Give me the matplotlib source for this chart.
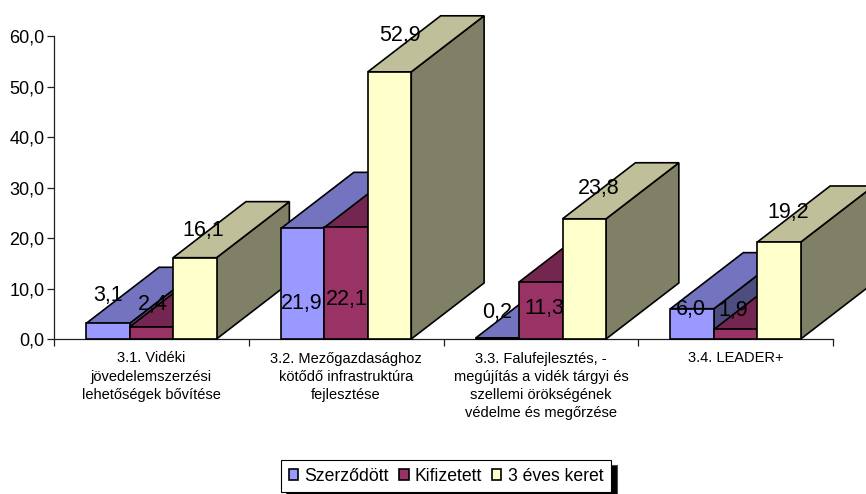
import matplotlib
matplotlib.use("Agg")
import matplotlib.pyplot as plt
from matplotlib.patches import Polygon, Patch

plt.rcParams['font.family'] = ['Liberation Sans', 'DejaVu Sans']

#values
categories = ["3.1. Vidéki\njövedelemszerzési\nlehetőségek bővítése",
              "3.2. Mezőgazdasághoz\nkötődő infrastruktúra\nfejlesztése",
              "3.3. Falufejlesztés, -\nmegújítás a vidék tárgyi és\nszellemi örökségének\nvédelme és megőrzése",
              "3.4. LEADER+"]
series_names = ["Szerződött", "Kifizetett", "3 éves keret"]
szerzodott = [3.1, 21.9, 0.2, 6.0]
kifizetett = [2.4, 22.1, 11.3, 1.9]
keret = [16.1, 52.9, 23.8, 19.2]
yticks = [0, 10, 20, 30, 40, 50, 60]

#front, top, side colours
colors = [("#9999FF", "#7373BF", "#4D4D80"),
          ("#993366", "#732650", "#4D1A33"),
          ("#FFFFCC", "#BFBF99", "#808066")]

#hand placed labels in the original, offset in px from top centre of the bar
label_off = [[(0, 28), (1, 22), (8, 27)],
             [(-1, -75), (1, -72), (10, 36)],
             [(0, 25), (3, -27), (14, 30)],
             [(-1, -1), (-2, 19), (9, 30)]]

W, H = 866, 494
fig = plt.figure(figsize=(W/100, H/100), dpi=100)
ax = fig.add_axes([54/W, 1-339/H, (833-54)/W, (339-36)/H])
ax.set_xlim(0, 4)
ax.set_ylim(0, 60)

bar_w = 0.223
depth_x = 0.374
depth_y = 11.1
z = 3
all_vals = [szerzodott, kifizetett, keret]
for g in range(len(categories)):
    for s in range(3):
        v = all_vals[s][g]
        x0 = g + 0.1655 + s*bar_w
        x1 = x0 + bar_w
        front, top, side = colors[s]
        ax.add_patch(Polygon([(x1, 0), (x1+depth_x, depth_y), (x1+depth_x, v+depth_y), (x1, v)],
                             fc=side, ec="black", lw=1.2, zorder=z, clip_on=False))
        ax.add_patch(Polygon([(x0, v), (x1, v), (x1+depth_x, v+depth_y), (x0+depth_x, v+depth_y)],
                             fc=top, ec="black", lw=1.2, zorder=z, clip_on=False))
        ax.bar(x0, v, bar_w, align="edge", color=front, edgecolor="black", lw=1.2, zorder=z, clip_on=False)
        z += 1

#labels go on top of everything
for g in range(len(categories)):
    for s in range(3):
        v = all_vals[s][g]
        dx, dy = label_off[g][s]
        ax.annotate(f"{v:.1f}".replace(".", ","), (g + 0.1655 + (s+0.5)*bar_w, v),
                    xytext=(dx*0.72, dy*0.72), textcoords="offset points",
                    ha="center", va="center", fontsize=15.5, color="black", zorder=50)

for side in ["top", "right"]:
    ax.spines[side].set_visible(False)
for side in ["left", "bottom"]:
    ax.spines[side].set_color("#202020")
    ax.spines[side].set_linewidth(0.9)
ax.patch.set_visible(False)

ax.set_yticks(yticks)
ax.set_yticklabels([f"{t:.1f}".replace(".", ",") for t in yticks], fontsize=13)
ax.tick_params(axis="y", length=5, width=0.9, color="#202020", pad=2)
ax.set_xticks(range(5))
ax.set_xticklabels([])
ax.tick_params(axis="x", which="major", length=5, width=0.9, color="#202020")
ax.set_xticks([0.5, 1.5, 2.5, 3.5], minor=True)
ax.set_xticklabels(categories, minor=True, fontsize=10.5, linespacing=1.38, va="top")
ax.tick_params(axis="x", which="minor", length=0, pad=9)

handles = [Patch(fc=colors[i][0], ec="black", lw=1.2) for i in range(3)]
leg = ax.legend(handles, series_names, loc="center", bbox_to_anchor=(446/W, 1-476/H),
                bbox_transform=fig.transFigure, ncol=3, fontsize=12.7, frameon=True, fancybox=False,
                edgecolor="black", framealpha=1, handlelength=0.55, handleheight=0.55,
                handletextpad=0.35, columnspacing=0.55, borderpad=0.45,
                shadow={"ox": 4, "oy": -4, "fc": "black", "alpha": 1})
leg.get_frame().set_linewidth(0.8)
leg.set_zorder(60)

fig.savefig("out.png", dpi=100)
